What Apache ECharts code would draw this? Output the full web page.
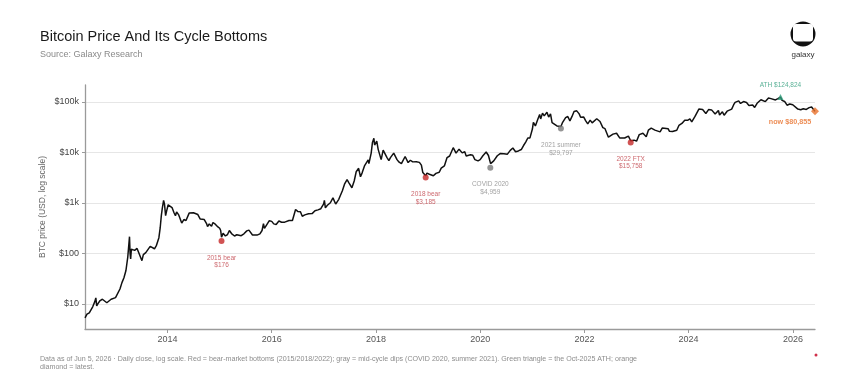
<!DOCTYPE html>
<html>
<head>
<meta charset="utf-8">
<script src="https://cdn.jsdelivr.net/npm/echarts@6/dist/echarts.min.js"></script>
<style>
html,body{margin:0;padding:0;background:#fff;}
#chart{width:860px;height:377px;}
</style>
</head>
<body>
<div id="chart"></div>
<script>
// ---- Data ----
const priceDates = [
'2012-06-01','2012-06-15','2012-07-01','2012-07-12','2012-07-25','2012-08-08','2012-08-16','2012-08-22','2012-09-01','2012-09-15',
'2012-10-01','2012-10-15','2012-11-01','2012-11-15','2012-12-01','2012-12-15','2013-01-01','2013-01-15','2013-02-01','2013-02-15',
'2013-03-01','2013-03-15','2013-03-28','2013-04-09','2013-04-13','2013-04-17','2013-04-22','2013-05-01','2013-05-15','2013-06-01',
'2013-06-15','2013-07-05','2013-07-15','2013-08-01','2013-08-15','2013-09-01','2013-09-15','2013-10-01','2013-10-15','2013-11-01',
'2013-11-10','2013-11-18','2013-11-25','2013-12-04','2013-12-10','2013-12-18','2013-12-25','2014-01-05','2014-01-15','2014-02-01',
'2014-02-15','2014-02-25','2014-03-05','2014-03-20','2014-04-10','2014-04-25','2014-05-10','2014-06-01','2014-06-15','2014-07-01',
'2014-07-15','2014-08-01','2014-08-18','2014-09-01','2014-09-15','2014-10-01','2014-10-08','2014-10-20','2014-11-05','2014-11-15',
'2014-12-01','2014-12-15','2015-01-01','2015-01-08','2015-01-14','2015-01-25','2015-02-10','2015-02-25','2015-03-10','2015-03-25',
'2015-04-15','2015-05-01','2015-06-01','2015-06-20','2015-07-10','2015-07-25','2015-08-19','2015-09-01','2015-09-20','2015-10-10',
'2015-10-25','2015-11-04','2015-11-11','2015-11-25','2015-12-15','2016-01-01','2016-01-15','2016-02-01','2016-02-20','2016-03-10',
'2016-04-01','2016-05-01','2016-05-25','2016-06-16','2016-07-01','2016-07-20','2016-08-02','2016-08-20','2016-09-15','2016-10-10',
'2016-10-30','2016-11-20','2016-12-10','2016-12-30','2017-01-04','2017-01-11','2017-01-25','2017-02-15','2017-03-05','2017-03-24',
'2017-04-15','2017-05-10','2017-05-25','2017-06-12','2017-06-25','2017-07-16','2017-08-01','2017-08-15','2017-09-01','2017-09-14',
'2017-09-25','2017-10-12','2017-10-25','2017-11-07','2017-11-12','2017-11-28','2017-12-07','2017-12-17','2017-12-22','2018-01-06',
'2018-01-16','2018-01-28','2018-02-06','2018-02-20','2018-03-05','2018-03-18','2018-04-01','2018-04-12','2018-05-05','2018-05-28',
'2018-06-12','2018-06-28','2018-07-24','2018-08-14','2018-08-30','2018-09-15','2018-10-10','2018-11-01','2018-11-15','2018-11-25',
'2018-12-15','2018-12-24','2019-01-10','2019-02-07','2019-02-25','2019-03-20','2019-04-03','2019-04-25','2019-05-14','2019-06-01',
'2019-06-26','2019-07-16','2019-07-28','2019-08-06','2019-08-28','2019-09-15','2019-09-25','2019-10-25','2019-11-10','2019-11-25',
'2019-12-17','2020-01-01','2020-01-20','2020-02-12','2020-02-28','2020-03-08','2020-03-14','2020-03-22','2020-04-05','2020-04-30',
'2020-05-20','2020-06-15','2020-07-10','2020-07-30','2020-08-17','2020-09-05','2020-09-25','2020-10-15','2020-10-31','2020-11-15',
'2020-11-30','2020-12-15','2021-01-01','2021-01-08','2021-01-22','2021-02-08','2021-02-21','2021-02-28','2021-03-13','2021-03-25',
'2021-04-13','2021-04-25','2021-05-08','2021-05-19','2021-06-01','2021-06-22','2021-07-20','2021-08-01','2021-08-22','2021-09-06',
'2021-09-21','2021-10-05','2021-10-20','2021-11-08','2021-11-25','2021-12-05','2021-12-27','2022-01-10','2022-01-24','2022-02-10',
'2022-02-24','2022-03-28','2022-04-20','2022-05-10','2022-05-25','2022-06-18','2022-07-01','2022-07-20','2022-08-14','2022-09-06',
'2022-09-20','2022-10-10','2022-11-05','2022-11-21','2022-12-15','2023-01-01','2023-01-20','2023-02-15','2023-03-10','2023-03-25',
'2023-04-14','2023-05-10','2023-06-15','2023-06-30','2023-07-15','2023-08-10','2023-08-20','2023-09-10','2023-10-10','2023-10-25',
'2023-11-15','2023-12-05','2023-12-25','2024-01-10','2024-01-23','2024-02-15','2024-03-13','2024-03-20','2024-04-08','2024-05-01',
'2024-05-20','2024-06-10','2024-07-05','2024-07-28','2024-08-05','2024-08-25','2024-09-06','2024-09-27','2024-10-10','2024-10-29',
'2024-11-12','2024-11-22','2024-12-05','2024-12-17','2024-12-30','2025-01-20','2025-02-10','2025-02-27','2025-03-10','2025-03-25',
'2025-04-08','2025-04-25','2025-05-22','2025-06-05','2025-06-22','2025-07-14','2025-07-31','2025-08-13','2025-09-01','2025-09-18',
'2025-09-26','2025-10-06','2025-10-17','2025-11-04','2025-11-21','2025-12-10','2025-12-31','2026-01-14','2026-02-05','2026-02-25',
'2026-03-15','2026-04-05','2026-04-25','2026-05-12','2026-05-25','2026-06-05'
];
const priceValues = [
5.3,6.3,6.7,7.6,8.8,11.0,13.2,9.2,10.3,11.7,
12.4,11.6,10.6,11.3,12.4,13.3,13.4,14.4,19.8,26.5,
33,46,86,215,100,78,122,112,115,126,
100,72,95,104,100,138,127,124,145,205,
320,560,790,1120,960,560,690,920,860,810,
640,560,660,580,400,470,450,630,590,640,
620,590,480,480,470,390,340,385,345,410,
380,345,315,285,210,250,222,237,285,248,
222,235,225,245,280,290,232,228,231,245,
285,390,315,330,445,432,385,375,440,415,
417,450,450,740,680,670,545,580,610,615,
700,730,770,955,1120,800,900,1010,1260,950,
1180,1750,2350,2900,2500,2000,2720,4150,4850,3300,
3900,5400,5700,7100,6000,9700,15800,19100,14000,16800,
11500,11600,7200,11100,11400,8000,6900,7900,9700,7200,
6400,6000,8300,6300,7000,6500,6550,6350,5600,4000,
3450,3900,3700,3450,3850,4050,4900,5400,7900,8500,
12400,9700,9500,11600,9800,10300,8500,9000,8800,7200,
6800,7200,8600,10200,8700,8000,6000,6300,6800,8600,
9500,9400,9250,11000,12200,10300,10700,11400,13700,16000,
19300,19400,29000,39500,33500,45500,56500,46000,60000,53000,
62500,50000,58000,39000,37000,33500,32500,39500,49000,51500,
42000,51000,64500,66500,58000,49500,50000,42000,36800,43500,
38500,46500,41000,31000,29500,20000,19500,23000,24000,19200,
19000,19300,21000,17000,17500,16700,22500,24000,20500,27500,
30200,27600,25500,30300,30200,29500,26200,25900,27400,34200,
37500,43500,43200,46000,40200,51500,72000,68000,71000,59000,
70500,69500,57500,67500,55000,63500,54500,65500,60500,72000,
88000,98000,98500,105000,93000,101500,97500,85000,80000,87000,
77500,94000,110500,102500,101500,119000,116000,122500,109500,116500,
110000,124824,107000,102000,86000,91000,88000,94000,72000,70000,
73000,71000,77000,79000,74000,65000
];

// Highlighted points
const bearDates  = ['2015-01-14','2018-12-15','2022-11-21'];
const bearValues = [176, 3185, 15758];
const bearNames  = ['2015 bear','2018 bear','2022 FTX'];

const dipDates  = ['2020-03-12','2021-07-20'];
const dipValues = [4959, 29797];
const dipNames  = ['COVID 2020','2021 summer'];

const athDate = '2025-10-06';
const athValue = 124824;

const nowDate = '2026-06-05';
const nowValue = 65000;       // plotted position
const nowLabelValue = 80855;  // value printed in the label

// Axis ticks
const yTickValues = [10, 100, 1000, 10000, 100000];
const yTickLabels = ['$10', '$100', '$1k', '$10k', '$100k'];
const xTickYears  = [2014, 2016, 2018, 2020, 2022, 2024, 2026];
const xMinDate = '2012-06-01';
const xMaxDate = '2026-06-05';

// ---- Chart ----
const ts = s => Date.parse(s + 'T00:00:00Z');
const fmt = v => '$' + v.toLocaleString('en-US');
const pairs = (d, v) => d.map((x, i) => [ts(x), v[i]]);
const xTickTs = xTickYears.map(y => Date.UTC(y, 0, 1));

const chart = echarts.init(document.getElementById('chart'), null, {renderer: 'canvas'});
const FONT = '"Liberation Sans", Arial, Helvetica, sans-serif';

const option = {
  backgroundColor: '#ffffff',
  animation: false,
  textStyle: {fontFamily: FONT},
  title: [
    {text: 'Bitcoin Price And Its Cycle Bottoms', left: 40, top: 29, padding: 0,
     textStyle: {fontFamily: FONT, fontSize: 14.5, fontWeight: 'normal', color: '#1a1a1a'}},
    {text: 'Source: Galaxy Research', left: 40, top: 50, padding: 0,
     textStyle: {fontFamily: FONT, fontSize: 9, fontWeight: 'normal', color: '#8a8a8a'}},
    {text: 'Data as of Jun 5, 2026 · Daily close, log scale. Red = bear-market bottoms (2015/2018/2022); gray = mid-cycle dips (COVID 2020, summer 2021). Green triangle = the Oct-2025 ATH; orange\ndiamond = latest.',
     left: 40, top: 355, padding: 0,
     textStyle: {fontFamily: FONT, fontSize: 7.1, lineHeight: 8, fontWeight: 'normal', color: '#8c8c8c'}}
  ],
  grid: {left: 85, right: 45, top: 85, bottom: 48},
  xAxis: {
    type: 'value',
    min: ts(xMinDate),
    max: ts(xMaxDate),
    axisLine: {show: true, lineStyle: {color: '#9a9a9a', width: 1.3}},
    axisTick: {show: true, length: 4, lineStyle: {color: '#9a9a9a'}, customValues: xTickTs},
    axisLabel: {color: '#555', fontSize: 9, margin: 6, fontFamily: FONT,
      customValues: xTickTs,
      formatter: v => String(new Date(v).getUTCFullYear())},
    splitLine: {show: false}
  },
  yAxis: {
    type: 'log',
    logBase: 10,
    min: 3.2,
    max: 216000,
    name: 'BTC price (USD, log scale)',
    nameLocation: 'middle',
    nameRotate: 90,
    nameGap: 38,
    nameMoveOverlap: false,
    nameTextStyle: {color: '#666', fontSize: 8.5, fontFamily: FONT},
    axisLine: {show: true, lineStyle: {color: '#9a9a9a', width: 1.3}},
    axisTick: {show: true, length: 3, lineStyle: {color: '#9a9a9a'}, customValues: yTickValues},
    axisLabel: {color: '#444', fontSize: 9, margin: 6, fontFamily: FONT,
      customValues: yTickValues,
      formatter: v => {
        const i = yTickValues.findIndex(t => Math.abs(t - v) / t < 1e-6);
        return i >= 0 ? yTickLabels[i] : '';
      }},
    splitLine: {show: true, lineStyle: {color: '#e6e6e6', width: 1}},
    minorTick: {show: false},
    minorSplitLine: {show: false}
  },
  series: [
    {
      type: 'line',
      name: 'BTC',
      data: pairs(priceDates, priceValues),
      showSymbol: false,
      symbol: 'none',
      lineStyle: {color: '#111', width: 1.5},
      z: 2
    },
    {
      type: 'scatter',
      name: 'bear',
      symbol: 'circle',
      symbolSize: 6,
      itemStyle: {color: '#c62828'},
      data: bearDates.map((d, i) => ({name: bearNames[i], value: [ts(d), bearValues[i]]})),
      label: {show: true, position: 'bottom', distance: 10, color: '#c0424a', fontSize: 6.5, lineHeight: 7.5,
        fontFamily: FONT, formatter: p => p.name + '\n' + fmt(p.value[1])},
      z: 5
    },
    {
      type: 'scatter',
      name: 'dip',
      symbol: 'circle',
      symbolSize: 6,
      itemStyle: {color: '#7a7a7a'},
      data: dipDates.map((d, i) => ({name: dipNames[i], value: [ts(d), dipValues[i]]})),
      label: {show: true, position: 'bottom', distance: 10, color: '#8a8a8a', fontSize: 6.5, lineHeight: 7.5,
        fontFamily: FONT, formatter: p => p.name + '\n' + fmt(p.value[1])},
      z: 5
    },
    {
      type: 'scatter',
      name: 'ath',
      symbol: 'triangle',
      symbolSize: 6,
      itemStyle: {color: '#2e9c7a'},
      data: [{name: 'ATH', value: [ts(athDate), athValue]}],
      label: {show: true, position: 'top', distance: 5, color: '#2e9c7a', fontSize: 6.5,
        fontFamily: FONT, formatter: p => 'ATH ' + fmt(p.value[1])},
      z: 5
    },
    {
      type: 'scatter',
      name: 'now',
      symbol: 'diamond',
      symbolSize: 8,
      clip: false,
      itemStyle: {color: '#e8702a'},
      data: [{name: 'now', value: [ts(nowDate), nowValue]}],
      label: {show: true, position: 'bottom', distance: 3, offset: [-25, 0], color: '#e8702a', fontSize: 7.2,
        fontWeight: 'bold', fontFamily: FONT, formatter: () => 'now ' + fmt(nowLabelValue)},
      z: 5
    }
  ],
  graphic: [
    {type: 'group', x: 803, y: 34, children: [
      {type: 'circle', shape: {cx: 0, cy: 0, r: 12.5}, style: {fill: '#111'}},
      {type: 'rect', shape: {x: -10, y: -10, width: 20, height: 17.5, r: 3}, style: {fill: '#fff'}}
    ]},
    {type: 'text', x: 803, y: 55, style: {text: 'galaxy', fill: '#333', font: '8px ' + FONT, textAlign: 'center', textVerticalAlign: 'middle'}},
    {type: 'circle', shape: {cx: 816, cy: 355, r: 1.5}, style: {fill: '#d0304a'}}
  ]
};
chart.setOption(option);
</script>
</body>
</html>
